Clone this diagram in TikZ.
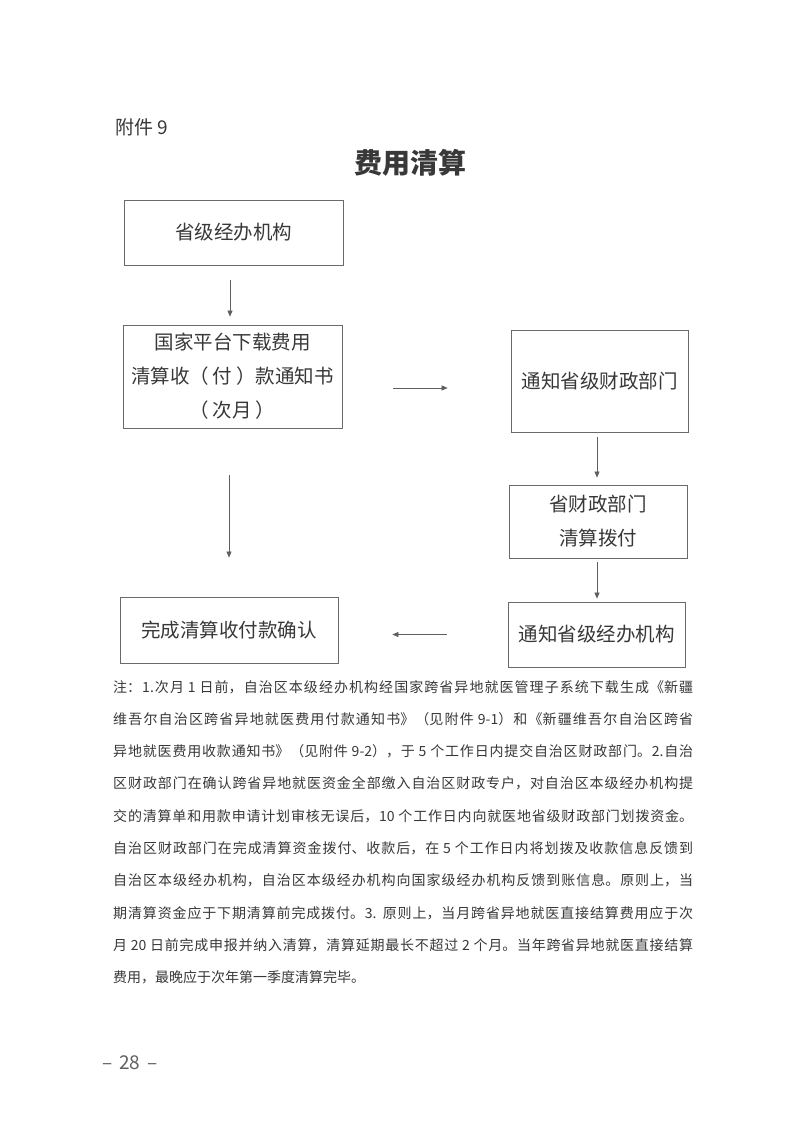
\documentclass[tikz,border=0pt]{standalone}
\usepackage{fontspec}
\usetikzlibrary{arrows.meta}
\setmainfont{Liberation Serif}
\newfontfamily\cjk{Noto Sans CJK SC}
\XeTeXlinebreaklocale "zh"
\XeTeXlinebreakskip=0pt plus 2pt
\definecolor{ink}{HTML}{383838}
\definecolor{frame}{HTML}{6A6A6A}
\tikzset{
  box/.style={draw=frame, line width=0.8pt, inner sep=0pt, align=center, text=ink,
    font=\cjk\fontsize{19.5}{34}\selectfont},
  arr/.style={draw=frame!90!black, line width=0.7pt, -{Triangle[length=6pt,width=5pt]}},
}
\begin{document}
\begin{tikzpicture}[x=1pt,y=-1pt]
\useasboundingbox[fill=white] (0,0) rectangle (793,1121);
\node[anchor=west, text=ink, font=\cjk\fontsize{19}{19}\selectfont] (att) at (112,127) {附件 9};
\node[text=ink, font=\cjk\bfseries\fontsize{28}{28}\selectfont] (title) at (410,163) {费用清算};

\node[box, minimum width=219pt, minimum height=65pt] (b1) at (233.5,232.5) {省级经办机构};
\node[box, minimum width=219pt, minimum height=103pt] (b2) at (232.5,376.5) {国家平台下载费用\\清算收（\hspace{4pt}付\hspace{4pt}）款通知书\\（\hspace{4pt}次月\hspace{4pt}）};
\node[box, minimum width=177pt, minimum height=102pt] (b3) at (599.5,381) {通知省级财政部门};
\node[box, minimum width=178pt, minimum height=73pt] (b4) at (598,521.5) {省财政部门\\清算拨付};
\node[box, minimum width=177pt, minimum height=65pt] (b5) at (596.5,634.5) {通知省级经办机构};
\node[box, minimum width=218pt, minimum height=66pt] (b6) at (229,630) {完成清算收付款确认};

\draw[arr, shorten <=15pt, shorten >=8pt] ([xshift=-3.5pt]b1.south) -- ([xshift=-2.5pt]b2.north);
\draw[arr, shorten <=51pt, shorten >=63pt] ([yshift=-11.5pt]b2.east) -- ([yshift=-11.5pt]b2.east -| b3.west);
\draw[arr, shorten <=5pt, shorten >=7pt] ([xshift=-2.5pt]b3.south) -- ([xshift=-1pt]b4.north);
\draw[arr, shorten <=4pt, shorten >=3pt] ([xshift=-1pt]b4.south) -- ([xshift=0.5pt]b5.north);
\draw[arr, shorten <=61pt, shorten >=54pt] (b5.west) -- (b5.west -| b6.east);
\draw[arr, shorten <=47pt, shorten >=39pt] ([xshift=-3.5pt]b2.south) -- (b6.north);

\node[anchor=north west, text width=580pt, align=justify, inner sep=0pt, text=ink,
  font=\cjk\fontsize{14}{32.3}\selectfont] (note) at (113,680) {注：1.次月 1 日前，自治区本级经办机构经国家跨省异地就医管理子系统下载生成《新疆\linebreak
维吾尔自治区跨省异地就医费用付款通知书》（见附件 9-1）和《新疆维吾尔自治区跨省\linebreak
异地就医费用收款通知书》（见附件 9-2），于 5 个工作日内提交自治区财政部门。2.自治\linebreak
区财政部门在确认跨省异地就医资金全部缴入自治区财政专户，对自治区本级经办机构提\linebreak
交的清算单和用款申请计划审核无误后，10 个工作日内向就医地省级财政部门划拨资金。\linebreak
自治区财政部门在完成清算资金拨付、收款后，在 5 个工作日内将划拨及收款信息反馈到\linebreak
自治区本级经办机构，自治区本级经办机构向国家级经办机构反馈到账信息。原则上，当\linebreak
期清算资金应于下期清算前完成拨付。3. 原则上，当月跨省异地就医直接结算费用应于次\linebreak
月 20 日前完成申报并纳入清算，清算延期最长不超过 2 个月。当年跨省异地就医直接结算\linebreak
费用，最晚应于次年第一季度清算完毕。};

\node[text=ink!80, font=\cjk\fontsize{19}{19}\selectfont] (page) at (130,1063) {–\hspace{7pt}28\hspace{7pt}–};
\end{tikzpicture}
\end{document}
